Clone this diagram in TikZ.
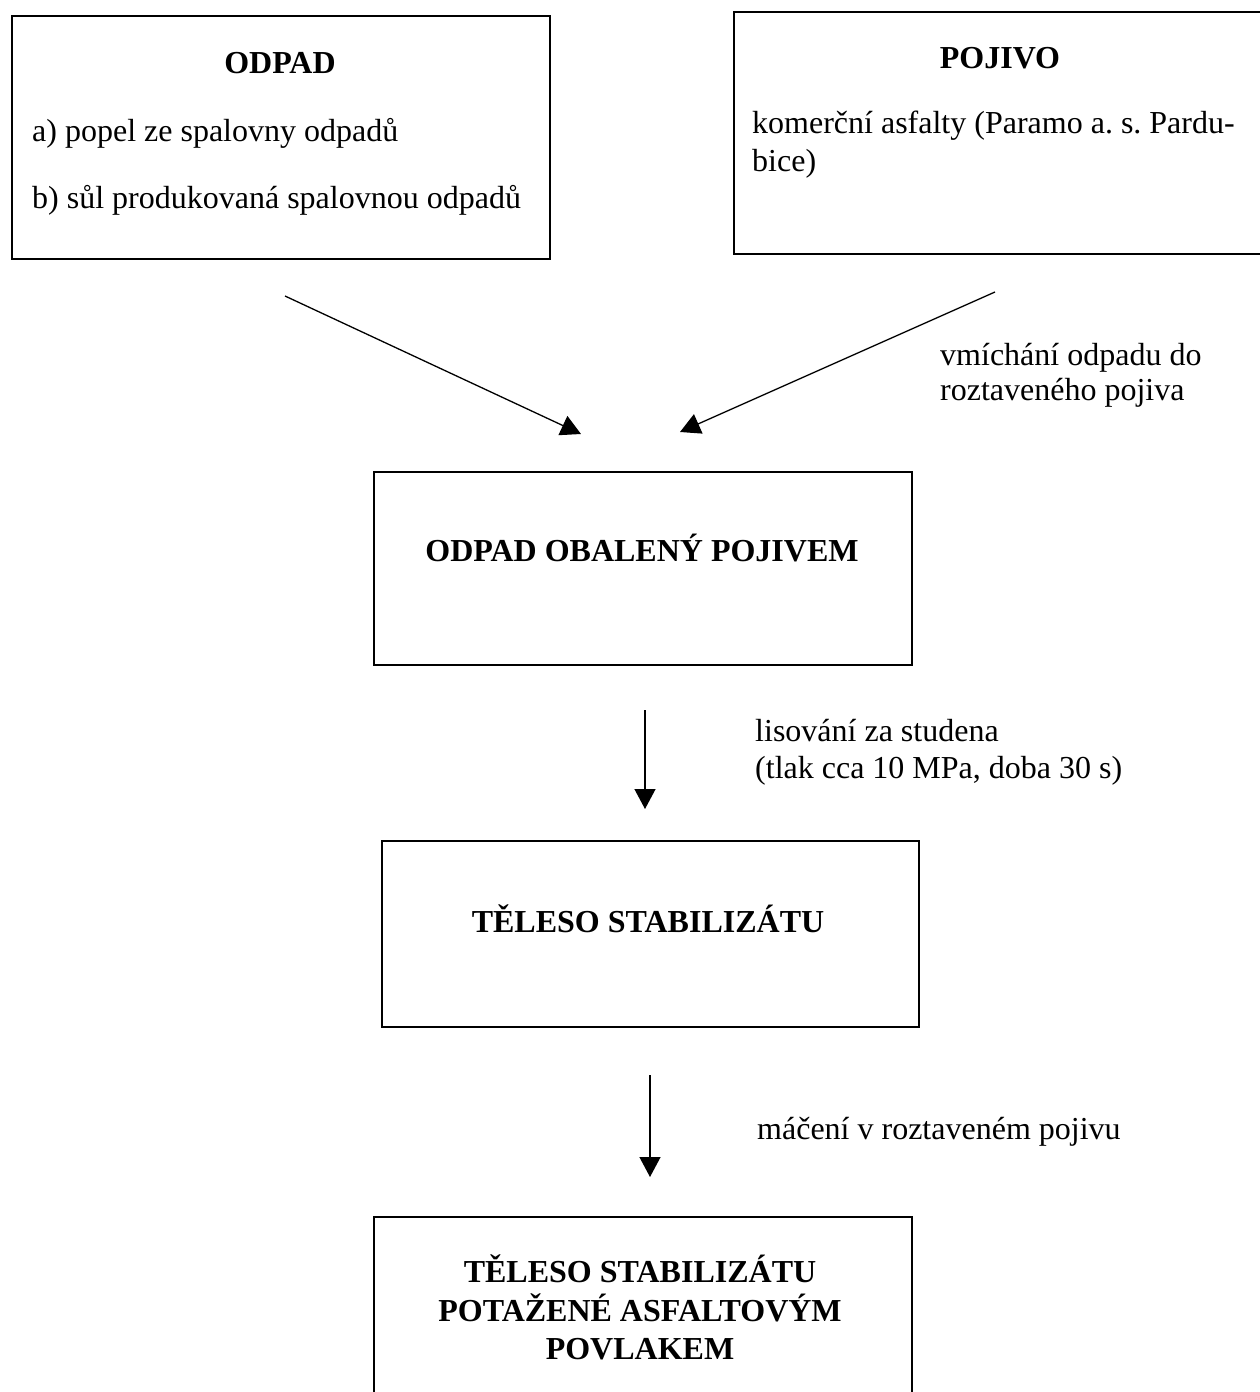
\documentclass[tikz,border=0pt]{standalone}
\usepackage{fontspec}
\setmainfont{Liberation Serif}
\usetikzlibrary{arrows.meta}
\begin{document}
\frenchspacing
\begin{tikzpicture}[x=1pt,y=-1pt,
  box/.style={draw, line width=1.6pt, anchor=north west, inner sep=0pt},
  txt/.style={anchor=base west, inner sep=0pt, font=\fontsize{32}{38}\selectfont},
  ttl/.style={anchor=base, inner sep=0pt, align=center, font=\fontsize{32}{38.5}\selectfont\bfseries},
  arr/.style={line width=1.3pt, -{Triangle[length=20pt,width=21pt]}}]
\clip (0,0) rectangle (1260,1392);
\fill[white] (0,0) rectangle (1260,1392);
% boxes
\node[box, minimum width=538pt, minimum height=243pt] (odpad) at (11,15) {};
\node[box, minimum width=600pt, minimum height=242pt] (pojivo) at (733,11) {};
\node[box, minimum width=538pt, minimum height=193pt] (obal) at (373,471) {};
\node[box, minimum width=537pt, minimum height=186pt] (teleso) at (381,840) {};
\node[box, minimum width=538pt, minimum height=250pt] (povlak) at (373,1216) {};
% texts
\node[ttl] (t1) at (280,73) {ODPAD};
\node[txt] (t1a) at (32,141) {a) popel ze spalovny odpadů};
\node[txt] (t1b) at (32,208) {b) sůl produkovaná spalovnou odpadů};
\node[ttl] (t2) at (1000,68) {POJIVO};
\node[txt] (t2a) at (752,133) {komerční asfalty (Paramo a. s. Pardu-};
\node[txt] (t2b) at (752,171) {bice)};
\node[ttl] (t3) at (642,561) {ODPAD OBALENÝ POJIVEM};
\node[ttl] (t4) at (648,932) {TĚLESO STABILIZÁTU};
\node[ttl, anchor=north] (t5) at (640,1255) {TĚLESO STABILIZÁTU\\POTAŽENÉ ASFALTOVÝM\\POVLAKEM};
% labels
\node[txt] (l1a) at (940,365) {vmíchání odpadu do};
\node[txt] (l1b) at (940,400) {roztaveného pojiva};
\node[txt] (l2a) at (755,741) {lisování za studena};
\node[txt] (l2b) at (755,778) {(tlak cca 10 MPa, doba 30 s)};
\node[txt] (l3) at (757,1139) {máčení v roztaveném pojivu};
% connectors
\coordinate (a1s) at (285,296);
\coordinate (a1e) at (581,434);
\coordinate (a2s) at (995,292);
\coordinate (a2e) at (680,432);
\coordinate (a3s) at (645,710);
\coordinate (a3e) at (645,809);
\coordinate (a4s) at (650,1075);
\coordinate (a4e) at (650,1177);
\draw[arr] (a1s) -- (a1e);
\draw[arr] (a2s) -- (a2e);
\draw[arr] (a3s) -- (a3e);
\draw[arr] (a4s) -- (a4e);
\end{tikzpicture}
\end{document}
